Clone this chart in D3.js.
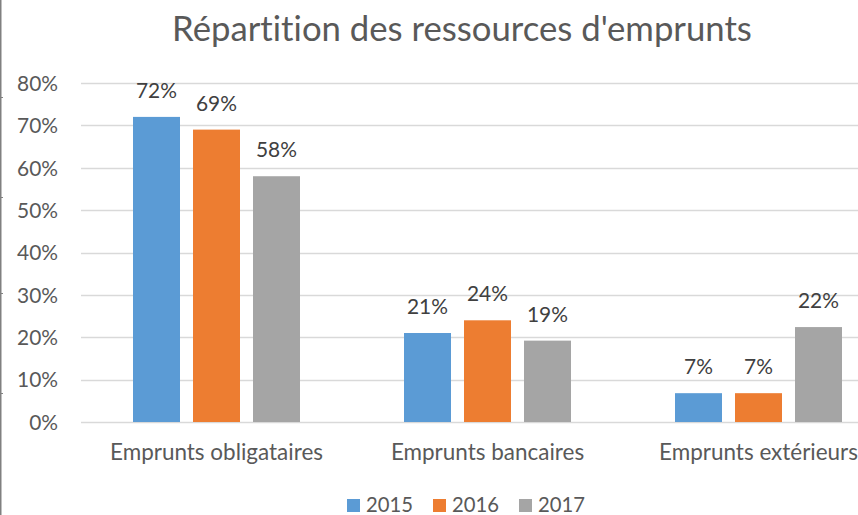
<!DOCTYPE html>
<html>
<head>
<meta charset="utf-8">
<script src="https://cdn.jsdelivr.net/npm/d3@7"></script>
<style>
  html, body { margin: 0; padding: 0; background: #fff; }
  svg { display: block; font-family: Lato, "Open Sans", sans-serif; font-variant-ligatures: none; }
</style>
</head>
<body>
<svg id="chart" width="858" height="515"></svg>
<script>
// --- DATA ---
const title = "Répartition des ressources d'emprunts";
const categories = ["Emprunts obligataires", "Emprunts bancaires", "Emprunts extérieurs"];
const years = ["2015", "2016", "2017"];
const values2015 = [0.72, 0.21, 0.068];
const values2016 = [0.69, 0.24, 0.068];
const values2017 = [0.58, 0.192, 0.224];
const yTicks = [0, 0.1, 0.2, 0.3, 0.4, 0.5, 0.6, 0.7, 0.8];
const colors = ["#5B9BD5", "#ED7D31", "#A5A5A5"];

const series = years.map((yr, i) => ({
    year: yr,
    color: colors[i],
    values: [values2015, values2016, values2017][i]
}));

const svg = d3.select("#chart");

// shrink/grow a text's font size so it spans the wanted width
function fitWidth(sel, target) {
    const node = sel.node();
    const fs = parseFloat(sel.attr("font-size"));
    const w = node.getComputedTextLength();
    sel.attr("font-size", (fs * target / w).toFixed(2));
}

// --- LEFT EDGE (cropped sheet border) ---
svg.append("line")
    .attr("x1", 0.75).attr("x2", 0.75).attr("y1", 0).attr("y2", 515)
    .attr("stroke", "#808080").attr("stroke-width", 1.5);
[97, 197, 293, 393].forEach(yy => {
    svg.append("line")
        .attr("x1", 0).attr("x2", 3).attr("y1", yy + 0.5).attr("y2", yy + 0.5)
        .attr("stroke", "#808080").attr("stroke-width", 1);
});

// --- SCALES ---
const y = d3.scaleLinear().domain([0, 0.8]).range([422, 83]);
const x0 = d3.scaleBand().domain(categories).range([81, 894]).padding(0);
const x1 = d3.scaleBand().domain(years).range([52, 219]).paddingInner(13 / 60).paddingOuter(0);

// gridlines
svg.append("g")
    .selectAll("line")
    .data(yTicks)
    .join("line")
    .attr("x1", 81).attr("x2", 858)
    .attr("y1", d => Math.round(y(d)) + 0.5)
    .attr("y2", d => Math.round(y(d)) + 0.5)
    .attr("stroke", "#d9d9d9")
    .attr("stroke-width", 1.3);

// y axis labels
const yAxis = svg.append("g")
    .attr("transform", "translate(58,0)")
    .call(d3.axisLeft(y).tickValues(yTicks).tickFormat(d3.format(".0%")).tickSize(0).tickPadding(0));
yAxis.select(".domain").remove();
yAxis.selectAll("text")
    .attr("fill", "#595959")
    .attr("font-size", 18)
    .attr("font-family", "Lato, sans-serif")
    .attr("dy", "0.35em");
fitWidth(yAxis.selectAll("text").filter(d => d === 0.8), 41);
const tickFs = yAxis.selectAll("text").filter(d => d === 0.8).attr("font-size");
yAxis.selectAll("text").attr("font-size", tickFs);

// bars
const groups = svg.append("g")
    .selectAll("g")
    .data(series)
    .join("g")
    .attr("fill", d => d.color);

groups.selectAll("rect")
    .data(s => s.values.map((v, i) => ({ year: s.year, cat: categories[i], v })))
    .join("rect")
    .attr("x", d => x0(d.cat) + x1(d.year))
    .attr("y", d => y(d.v))
    .attr("width", x1.bandwidth())
    .attr("height", d => y(0) - y(d.v));

// data labels
groups.selectAll("text")
    .data(s => s.values.map((v, i) => ({ year: s.year, cat: categories[i], v })))
    .join("text")
    .attr("x", d => x0(d.cat) + x1(d.year) + x1.bandwidth() / 2)
    .attr("y", d => y(d.v) - 19)
    .attr("text-anchor", "middle")
    .attr("fill", "#404040")
    .attr("font-size", tickFs)
    .text(d => d3.format(".0%")(d.v));

// category labels
const catLabels = svg.append("g")
    .selectAll("text")
    .data(categories)
    .join("text")
    .attr("x", d => x0(d) + x0.bandwidth() / 2)
    .attr("y", 460)
    .attr("text-anchor", "middle")
    .attr("fill", "#595959")
    .attr("font-size", 18)
    .text(d => d);
fitWidth(catLabels.filter((d, i) => i === 0), 213);
catLabels.attr("font-size", catLabels.filter((d, i) => i === 0).attr("font-size"));

// title
const titleText = svg.append("text")
    .attr("x", 462)
    .attr("y", 41)
    .attr("text-anchor", "middle")
    .attr("fill", "#595959")
    .attr("font-size", 30)
    .text(title);
fitWidth(titleText, 580);

// legend (sits at the very bottom edge, as in the source)
const legend = svg.append("g");
const legendX = [347, 433, 519];
series.forEach((s, i) => {
    legend.append("rect")
        .attr("x", legendX[i]).attr("y", 499)
        .attr("width", 13).attr("height", 13)
        .attr("fill", s.color);
    const t = legend.append("text")
        .attr("x", legendX[i] + 19)
        .attr("y", 512)
        .attr("fill", "#595959")
        .attr("font-size", 18)
        .text(s.year);
    fitWidth(t, 47);
});
</script>
</body>
</html>
